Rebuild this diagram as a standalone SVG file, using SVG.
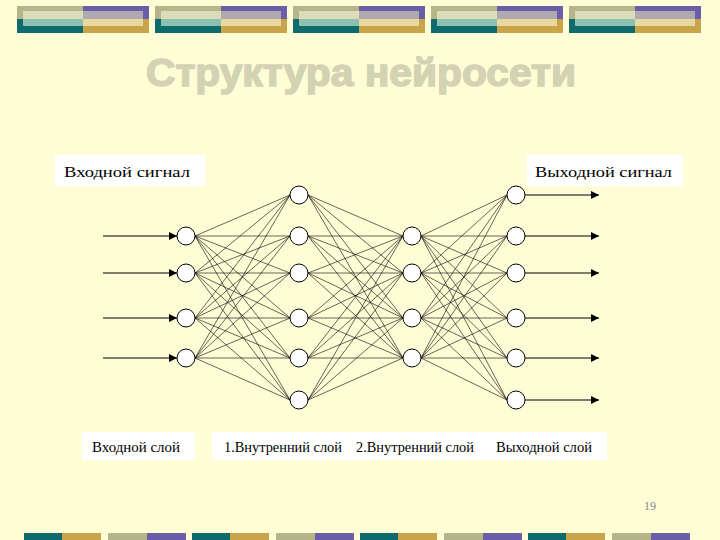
<svg xmlns="http://www.w3.org/2000/svg" width="720" height="540" viewBox="0 0 720 540">
<defs>
<style>
.lbl{font-family:"Liberation Serif","Times New Roman","DejaVu Serif",serif;font-size:15px;fill:#000}
.sl{font-family:"Liberation Serif","Times New Roman","DejaVu Serif",serif;font-size:14px;fill:#000}
.n{fill:#fff;stroke:#000;stroke-width:1}
.c line{stroke:#000;stroke-width:0.6}
.a line{stroke:#000;stroke-width:1}
</style>
<marker id="ah" markerWidth="8" markerHeight="8" refX="8" refY="4" orient="auto" markerUnits="userSpaceOnUse"><path d="M0,0 L8,4 L0,8 Z" fill="#000"/></marker>
<g id="tile">
<rect x="0" y="6" width="66" height="13" fill="#b5b58a"/><rect x="66" y="6" width="66" height="13" fill="#6b5ea8"/>
<rect x="0" y="19" width="66" height="14" fill="#0d6b6b"/><rect x="66" y="19" width="66" height="14" fill="#c9a44a"/>
<rect x="6" y="11" width="60" height="8" fill="#dcdcb8"/><rect x="66" y="11" width="60" height="8" fill="#b0aab0"/>
<rect x="6" y="19" width="60" height="7" fill="#8cc0b0"/><rect x="66" y="19" width="60" height="7" fill="#e8d8a0"/>
</g>
<g id="bt">
<rect x="0" y="533" width="38" height="7" fill="#0d6b6b"/><rect x="38" y="533" width="39" height="7" fill="#c9a44a"/>
<rect x="84" y="533" width="39" height="7" fill="#b5b58a"/><rect x="123" y="533" width="39" height="7" fill="#6b5ea8"/>
</g>
</defs>
<rect width="720" height="540" fill="#fffdd6"/>
<use href="#tile" x="17"/><use href="#tile" x="155"/><use href="#tile" x="293"/><use href="#tile" x="431"/><use href="#tile" x="569"/>
<use href="#bt" x="24"/><use href="#bt" x="192"/><use href="#bt" x="360"/><use href="#bt" x="528"/>
<text x="361" y="86" text-anchor="middle" font-family="'Liberation Sans',Arial,sans-serif" font-weight="bold" font-size="38" fill="#d3d3b4" textLength="430" lengthAdjust="spacingAndGlyphs" stroke="#d3d3b4" stroke-width="1.5">Структура нейросети</text>
<g id="lbl-in"><rect x="55" y="155" width="150" height="31" fill="#fff"/><text class="lbl" x="64" y="177" textLength="126" lengthAdjust="spacingAndGlyphs">Входной сигнал</text></g>
<g id="lbl-out"><rect x="527" y="155" width="156" height="31" fill="#fff"/><text class="lbl" x="535" y="177" textLength="137" lengthAdjust="spacingAndGlyphs">Выходной сигнал</text></g>
<g id="lbl-layers">
<rect x="82" y="432" width="113" height="28" fill="#fff"/><text class="sl" x="92" y="452" textLength="88" lengthAdjust="spacingAndGlyphs">Входной слой</text>
<rect x="212" y="432" width="395" height="28" fill="#fff"/>
<text class="sl" x="224" y="452" textLength="118" lengthAdjust="spacingAndGlyphs">1.Внутренний слой</text>
<text class="sl" x="356" y="452" textLength="118" lengthAdjust="spacingAndGlyphs">2.Внутренний слой</text>
<text class="sl" x="496" y="452" textLength="96" lengthAdjust="spacingAndGlyphs">Выходной слой</text>
</g>
<text x="644" y="510" font-family="'Liberation Serif',serif" font-size="12" fill="#888">19</text>
<g id="connectors">
<g class="a">
<line x1="103" y1="236" x2="177" y2="236" marker-end="url(#ah)"/>
<line x1="103" y1="273" x2="177" y2="273" marker-end="url(#ah)"/>
<line x1="103" y1="318" x2="177" y2="318" marker-end="url(#ah)"/>
<line x1="103" y1="358" x2="177" y2="358" marker-end="url(#ah)"/>
<line x1="525" y1="195" x2="599" y2="195" marker-end="url(#ah)"/>
<line x1="525" y1="236" x2="599" y2="236" marker-end="url(#ah)"/>
<line x1="525" y1="273" x2="599" y2="273" marker-end="url(#ah)"/>
<line x1="525" y1="318" x2="599" y2="318" marker-end="url(#ah)"/>
<line x1="525" y1="358" x2="599" y2="358" marker-end="url(#ah)"/>
<line x1="525" y1="400" x2="599" y2="400" marker-end="url(#ah)"/>
</g>
<g class="c">
<line x1="195" y1="236" x2="290" y2="195"/><line x1="195" y1="236" x2="290" y2="236"/><line x1="195" y1="236" x2="290" y2="273"/><line x1="195" y1="236" x2="290" y2="318"/><line x1="195" y1="236" x2="290" y2="358"/><line x1="195" y1="236" x2="290" y2="400"/>
<line x1="195" y1="273" x2="290" y2="195"/><line x1="195" y1="273" x2="290" y2="236"/><line x1="195" y1="273" x2="290" y2="273"/><line x1="195" y1="273" x2="290" y2="318"/><line x1="195" y1="273" x2="290" y2="358"/><line x1="195" y1="273" x2="290" y2="400"/>
<line x1="195" y1="318" x2="290" y2="195"/><line x1="195" y1="318" x2="290" y2="236"/><line x1="195" y1="318" x2="290" y2="273"/><line x1="195" y1="318" x2="290" y2="318"/><line x1="195" y1="318" x2="290" y2="358"/><line x1="195" y1="318" x2="290" y2="400"/>
<line x1="195" y1="358" x2="290" y2="195"/><line x1="195" y1="358" x2="290" y2="236"/><line x1="195" y1="358" x2="290" y2="273"/><line x1="195" y1="358" x2="290" y2="318"/><line x1="195" y1="358" x2="290" y2="358"/><line x1="195" y1="358" x2="290" y2="400"/>
<line x1="308" y1="195" x2="403" y2="236"/><line x1="308" y1="195" x2="403" y2="273"/><line x1="308" y1="195" x2="403" y2="318"/><line x1="308" y1="195" x2="403" y2="358"/>
<line x1="308" y1="236" x2="403" y2="236"/><line x1="308" y1="236" x2="403" y2="273"/><line x1="308" y1="236" x2="403" y2="318"/><line x1="308" y1="236" x2="403" y2="358"/>
<line x1="308" y1="273" x2="403" y2="236"/><line x1="308" y1="273" x2="403" y2="273"/><line x1="308" y1="273" x2="403" y2="318"/><line x1="308" y1="273" x2="403" y2="358"/>
<line x1="308" y1="318" x2="403" y2="236"/><line x1="308" y1="318" x2="403" y2="273"/><line x1="308" y1="318" x2="403" y2="318"/><line x1="308" y1="318" x2="403" y2="358"/>
<line x1="308" y1="358" x2="403" y2="236"/><line x1="308" y1="358" x2="403" y2="273"/><line x1="308" y1="358" x2="403" y2="318"/><line x1="308" y1="358" x2="403" y2="358"/>
<line x1="308" y1="400" x2="403" y2="236"/><line x1="308" y1="400" x2="403" y2="273"/><line x1="308" y1="400" x2="403" y2="318"/><line x1="308" y1="400" x2="403" y2="358"/>
<line x1="421" y1="236" x2="507" y2="195"/><line x1="421" y1="236" x2="507" y2="236"/><line x1="421" y1="236" x2="507" y2="273"/><line x1="421" y1="236" x2="507" y2="318"/><line x1="421" y1="236" x2="507" y2="358"/><line x1="421" y1="236" x2="507" y2="400"/>
<line x1="421" y1="273" x2="507" y2="195"/><line x1="421" y1="273" x2="507" y2="236"/><line x1="421" y1="273" x2="507" y2="273"/><line x1="421" y1="273" x2="507" y2="318"/><line x1="421" y1="273" x2="507" y2="358"/><line x1="421" y1="273" x2="507" y2="400"/>
<line x1="421" y1="318" x2="507" y2="195"/><line x1="421" y1="318" x2="507" y2="236"/><line x1="421" y1="318" x2="507" y2="273"/><line x1="421" y1="318" x2="507" y2="318"/><line x1="421" y1="318" x2="507" y2="358"/><line x1="421" y1="318" x2="507" y2="400"/>
<line x1="421" y1="358" x2="507" y2="195"/><line x1="421" y1="358" x2="507" y2="236"/><line x1="421" y1="358" x2="507" y2="273"/><line x1="421" y1="358" x2="507" y2="318"/><line x1="421" y1="358" x2="507" y2="358"/><line x1="421" y1="358" x2="507" y2="400"/>
</g>
</g>
<g id="layer-in">
<circle id="i1" class="n" cx="186" cy="236" r="9"/><circle id="i2" class="n" cx="186" cy="273" r="9"/><circle id="i3" class="n" cx="186" cy="318" r="9"/><circle id="i4" class="n" cx="186" cy="358" r="9"/>
</g>
<g id="layer-h1">
<circle id="h1" class="n" cx="299" cy="195" r="9"/><circle id="h2" class="n" cx="299" cy="236" r="9"/><circle id="h3" class="n" cx="299" cy="273" r="9"/><circle id="h4" class="n" cx="299" cy="318" r="9"/><circle id="h5" class="n" cx="299" cy="358" r="9"/><circle id="h6" class="n" cx="299" cy="400" r="9"/>
</g>
<g id="layer-h2">
<circle id="g1" class="n" cx="412" cy="236" r="9"/><circle id="g2" class="n" cx="412" cy="273" r="9"/><circle id="g3" class="n" cx="412" cy="318" r="9"/><circle id="g4" class="n" cx="412" cy="358" r="9"/>
</g>
<g id="layer-out">
<circle id="o1" class="n" cx="516" cy="195" r="9"/><circle id="o2" class="n" cx="516" cy="236" r="9"/><circle id="o3" class="n" cx="516" cy="273" r="9"/><circle id="o4" class="n" cx="516" cy="318" r="9"/><circle id="o5" class="n" cx="516" cy="358" r="9"/><circle id="o6" class="n" cx="516" cy="400" r="9"/>
</g>
</svg>
